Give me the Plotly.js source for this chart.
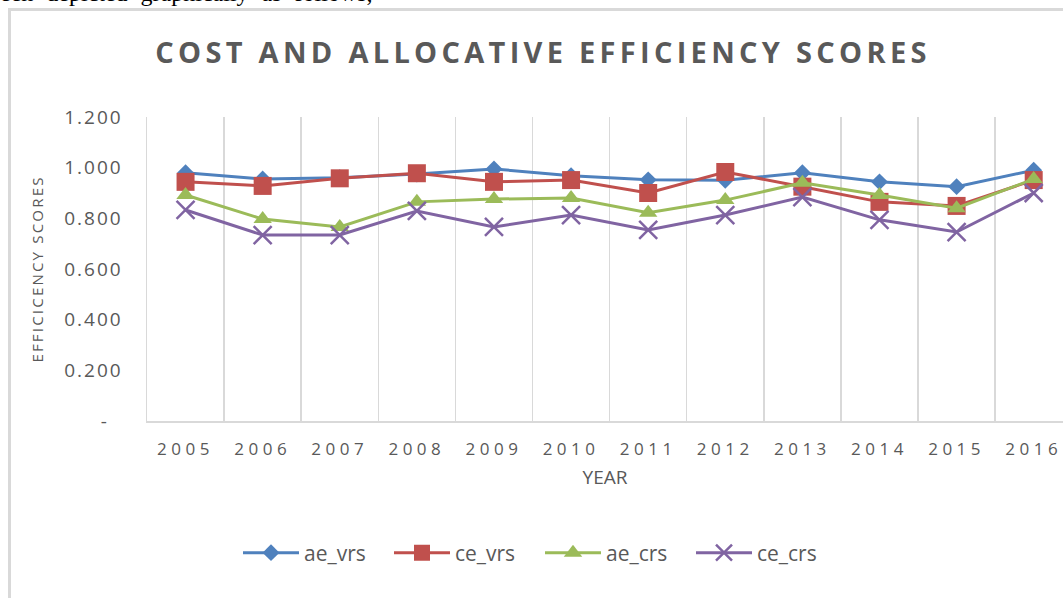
<!DOCTYPE html>
<html>
<head>
<meta charset="utf-8">
<script src="https://cdn.plot.ly/plotly-3.0.1.min.js"></script>
<style>
  html, body { margin: 0; padding: 0; background: #fff; overflow: hidden; }
  #chart { position: absolute; left: 0; top: 0; width: 1063px; height: 598px; }
  .page-text {
    position: absolute; left: -12px; top: -19px; margin: 0; z-index: 2;
    font-family: 'Liberation Serif', serif; font-size: 24px; line-height: 1;
    color: #000; white-space: nowrap; word-spacing: 7px;
  }
  #chart .gtitle { letter-spacing: 4.3px; }
  #chart .xtick text { letter-spacing: 4.5px; }
  #chart .ytick text { letter-spacing: 2px; }
  #chart .ytitle { letter-spacing: 2.2px; }
</style>
</head>
<body>
<p class="page-text">been depicted graphically as follows,</p>
<div id="chart"></div>
<script>
const years = ['2005', '2006', '2007', '2008', '2009', '2010', '2011', '2012', '2013', '2014', '2015', '2016'];

const aeVrs = [0.980, 0.955, 0.960, 0.975, 0.995, 0.968, 0.952, 0.950, 0.980, 0.944, 0.925, 0.990];
const ceVrs = [0.944, 0.928, 0.958, 0.978, 0.944, 0.951, 0.900, 0.983, 0.925, 0.865, 0.849, 0.951];
const aeCrs = [0.892, 0.797, 0.766, 0.865, 0.876, 0.880, 0.822, 0.872, 0.940, 0.892, 0.840, 0.955];
const ceCrs = [0.833, 0.734, 0.734, 0.829, 0.766, 0.813, 0.754, 0.813, 0.884, 0.794, 0.746, 0.900];

const yTickVals = [0, 0.2, 0.4, 0.6, 0.8, 1.0, 1.2];
const yTickText = ['-\u00a0\u00a0', '0.200', '0.400', '0.600', '0.800', '1.000', '1.200'];

const grey = '#595959';
const gridGrey = '#d9d9d9';

function makeTrace(name, values, color, symbol, size) {
  const marker = { symbol, size, color };
  if (symbol === 'x-thin') {
    marker.line = { color, width: 2.5 };
  }
  return {
    x: years,
    y: values,
    name,
    type: 'scatter',
    mode: 'lines+markers',
    line: { color, width: 3 },
    marker,
  };
}

const traces = [
  makeTrace('ae_vrs', aeVrs, '#4f81bd', 'diamond', 13),
  makeTrace('ce_vrs', ceVrs, '#c0504d', 'square', 18),
  makeTrace('ae_crs', aeCrs, '#9bbb59', 'triangle-up', 16),
  makeTrace('ce_crs', ceCrs, '#8064a2', 'x-thin', 18),
];

// plot area in pixels, used to place the outer chart frame
const plotLeft = 147;
const plotTop = 117;
const plotBottom = 421;
const plotW = 1063 - plotLeft;
const plotH = plotBottom - plotTop;
function px(x) { return (x - plotLeft) / plotW; }
function py(y) { return (plotBottom - y) / plotH; }

const layout = {
  width: 1063,
  height: 598,
  margin: { l: plotLeft, r: 0, t: plotTop, b: 598 - plotBottom },
  paper_bgcolor: '#fff',
  plot_bgcolor: '#fff',
  font: { family: 'Open Sans, sans-serif', color: grey },
  title: {
    text: 'COST AND ALLOCATIVE EFFICIENCY SCORES',
    font: { family: 'Open Sans, sans-serif', size: 29, color: grey, weight: 'bold' },
    xref: 'container',
    x: 543 / 1063,
    xanchor: 'center',
    yref: 'container',
    y: 1 - 53 / 598,
    yanchor: 'middle',
  },
  xaxis: {
    type: 'category',
    range: [-0.5, 11.38],
    tickson: 'boundaries',
    showgrid: true,
    gridcolor: gridGrey,
    gridwidth: 1.5,
    showline: true,
    linecolor: gridGrey,
    linewidth: 1.5,
    ticks: '',
    ticklabelstandoff: 12,
    tickfont: { size: 17, color: grey },
    title: { text: 'YEAR', font: { size: 19, color: grey }, standoff: 12 },
    fixedrange: true,
  },
  yaxis: {
    range: [0, 1.2],
    tickvals: yTickVals,
    ticktext: yTickText,
    showgrid: false,
    zeroline: false,
    showline: true,
    linecolor: gridGrey,
    linewidth: 1.5,
    ticks: '',
    ticklabelstandoff: 19,
    tickfont: { size: 19, color: grey },
    title: { text: '\u00a0\u00a0\u00a0\u00a0\u00a0EFFICICENCY SCORES', font: { size: 15, color: grey }, standoff: 27 },
    fixedrange: true,
  },
  showlegend: true,
  legend: {
    orientation: 'h',
    x: px(540),
    xanchor: 'center',
    y: py(553),
    yanchor: 'middle',
    font: { size: 21, color: grey },
    itemwidth: 56,
    entrywidth: 80,
    traceorder: 'normal',
  },
  shapes: [{
    type: 'rect',
    xref: 'paper',
    yref: 'paper',
    x0: px(9.5),
    x1: px(1090),
    y0: py(640),
    y1: py(9.5),
    line: { color: gridGrey, width: 3 },
    fillcolor: 'rgba(0,0,0,0)',
    layer: 'below',
  }],
};

Plotly.newPlot('chart', traces, layout, { displayModeBar: false, staticPlot: true });
</script>
</body>
</html>
